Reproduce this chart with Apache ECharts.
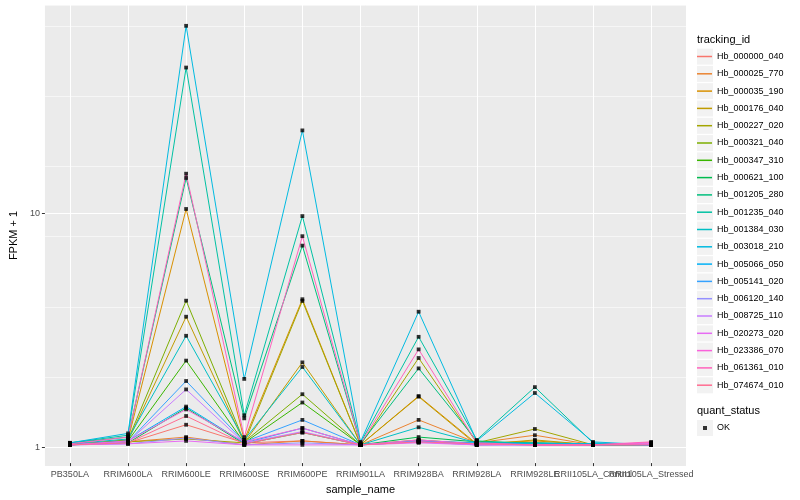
<!DOCTYPE html>
<html><head><meta charset="utf-8">
<script src="https://cdn.jsdelivr.net/npm/echarts@6/dist/echarts.min.js"></script>
<style>html,body{margin:0;padding:0;background:#fff}#c{width:800px;height:500px}</style>
</head><body><div id="c"></div><script>
const categories = ['PB350LA','RRIM600LA','RRIM600LE','RRIM600SE','RRIM600PE','RRIM901LA','RRIM928BA','RRIM928LA','RRIM928LE','RRII105LA_Control','RRII105LA_Stressed'];
const trackingIds = ['Hb_000000_040','Hb_000025_770','Hb_000035_190','Hb_000176_040','Hb_000227_020','Hb_000321_040','Hb_000347_310','Hb_000621_100','Hb_001205_280','Hb_001235_040','Hb_001384_030','Hb_003018_210','Hb_005066_050','Hb_005141_020','Hb_006120_140','Hb_008725_110','Hb_020273_020','Hb_023386_070','Hb_061361_010','Hb_074674_010'];
const palette = ['#F8766D','#EA8331','#D89000','#C09B00','#A3A500','#7CAE00','#39B600','#00BB4E','#00BF7D','#00C1A3','#00BFC4','#00BAE0','#00B0F6','#35A2FF','#9590FF','#C77CFF','#E76BF3','#FA62DB','#FF62BC','#FF6C91'];
const yTickValues = [1, 10];
const quantStatus = ['OK'];

const Hb_000000_040 = [1.01, 1.02, 1.22, 1.02, 1.04, 1.00, 1.03, 1.01, 1.00, 1.00, 1.02];
const Hb_000025_770 = [1.00, 1.03, 1.08, 1.00, 1.04, 1.00, 1.28, 1.02, 1.10, 1.00, 1.00];
const Hb_000035_190 = [1.00, 1.05, 10.3, 1.05, 4.22, 1.00, 1.62, 1.01, 1.04, 1.00, 1.00];
const Hb_000176_040 = [1.00, 1.04, 3.55, 1.02, 2.26, 1.00, 1.61, 1.00, 1.05, 1.00, 1.00];
const Hb_000227_020 = [1.00, 1.03, 1.06, 1.02, 4.15, 1.00, 2.36, 1.02, 1.17, 1.00, 1.00];
const Hb_000321_040 = [1.00, 1.05, 4.16, 1.03, 1.65, 1.00, 1.05, 1.01, 1.02, 1.00, 1.00];
const Hb_000347_310 = [1.00, 1.04, 2.30, 1.02, 1.52, 1.00, 1.04, 1.00, 1.01, 1.00, 1.00];
const Hb_000621_100 = [1.00, 1.02, 1.44, 1.01, 1.13, 1.00, 1.08, 1.03, 1.02, 1.00, 1.00];
const Hb_001205_280 = [1.02, 1.08, 14.0, 1.30, 7.17, 1.01, 2.13, 1.04, 1.01, 1.01, 1.00];
const Hb_001235_040 = [1.02, 1.10, 41.7, 1.34, 9.60, 1.02, 2.91, 1.05, 1.77, 1.02, 1.00];
const Hb_001384_030 = [1.01, 1.06, 2.94, 1.05, 2.16, 1.00, 1.19, 1.02, 1.02, 1.01, 1.00];
const Hb_003018_210 = [1.02, 1.12, 63.0, 1.92, 22.4, 1.03, 3.73, 1.04, 1.67, 1.03, 1.00];
const Hb_005066_050 = [1.00, 1.04, 1.46, 1.02, 1.18, 1.00, 1.04, 1.02, 1.01, 1.01, 1.00];
const Hb_005141_020 = [1.00, 1.03, 1.88, 1.03, 1.28, 1.00, 1.04, 1.01, 1.00, 1.00, 1.00];
const Hb_006120_140 = [1.00, 1.01, 1.07, 1.00, 1.02, 1.00, 1.03, 1.00, 1.00, 1.00, 1.01];
const Hb_008725_110 = [1.00, 1.03, 1.73, 1.02, 1.14, 1.00, 1.03, 1.00, 1.00, 1.00, 1.00];
const Hb_020273_020 = [1.00, 1.01, 1.04, 1.00, 1.00, 1.00, 1.02, 1.00, 1.00, 1.00, 1.01];
const Hb_023386_070 = [1.00, 1.04, 1.42, 1.03, 1.18, 1.00, 1.05, 1.01, 1.00, 1.00, 1.02];
const Hb_061361_010 = [1.01, 1.08, 14.6, 1.08, 7.87, 1.01, 2.57, 1.02, 1.00, 1.00, 1.03];
const Hb_074674_010 = [1.00, 1.02, 1.33, 1.01, 1.13, 1.00, 1.03, 1.01, 1.00, 1.00, 1.00];

const seriesValues = [Hb_000000_040, Hb_000025_770, Hb_000035_190, Hb_000176_040, Hb_000227_020,
  Hb_000321_040, Hb_000347_310, Hb_000621_100, Hb_001205_280, Hb_001235_040, Hb_001384_030,
  Hb_003018_210, Hb_005066_050, Hb_005141_020, Hb_006120_140, Hb_008725_110, Hb_020273_020,
  Hb_023386_070, Hb_061361_010, Hb_074674_010];

const FONT = 'Liberation Sans';
const yMin = 0.835, yMax = 77.4;
const panel = {left: 35, top: 5, width: 651, height: 461};
const band = panel.width / (categories.length - 1 + 1.2);
const inner = {left: panel.left + band * 0.6, width: band * (categories.length - 1)};

const chart = echarts.init(document.getElementById('c'), null, {renderer: 'canvas'});

const series = seriesValues.map((vals, i) => ({
  type: 'line', name: trackingIds[i], xAxisIndex: 1, yAxisIndex: 2,
  data: vals, showSymbol: false, symbol: 'none', silent: true,
  color: palette[i],
  lineStyle: {color: palette[i], width: 1},
  itemStyle: {color: palette[i]}, z: 2
}));
const pts = [];
seriesValues.forEach(vals => vals.forEach((v, j) => pts.push([categories[j], v])));
series.push({
  type: 'scatter', name: quantStatus[0], xAxisIndex: 1, yAxisIndex: 2,
  data: pts, symbol: 'rect', symbolSize: 3.8, itemStyle: {color: '#000'}, z: 5, silent: true
});

const itemStep = 17.3, legendTop = 48;
const keyRects = trackingIds.map((id, i) => ({
  type: 'rect', z: 1, silent: true,
  shape: {x: 697, y: legendTop + 0.6 + itemStep * i, width: 16, height: 16},
  style: {fill: '#F2F2F2'}
}));
keyRects.push({type: 'rect', z: 1, silent: true, shape: {x: 697, y: 420, width: 16, height: 16}, style: {fill: '#F2F2F2'}});

chart.setOption({
  animation: false,
  textStyle: {fontFamily: FONT},
  title: [
    {text: 'tracking_id', left: 697, top: 34, padding: 0, textStyle: {fontSize: 11, fontWeight: 'normal', color: '#000', fontFamily: FONT}},
    {text: 'quant_status', left: 697, top: 405, padding: 0, textStyle: {fontSize: 11, fontWeight: 'normal', color: '#000', fontFamily: FONT}}
  ],
  graphic: keyRects,
  legend: [
    {data: trackingIds, orient: 'vertical', left: 697, top: legendTop, padding: 0,
     icon: 'rect', itemWidth: 15, itemHeight: 1.5, itemGap: 0.3, selectedMode: false,
     itemStyle: {borderWidth: 0},
     textStyle: {fontSize: 9, color: '#000', lineHeight: 17, fontFamily: FONT}},
    {data: quantStatus, orient: 'vertical', left: 703, top: 419.5, padding: 0,
     icon: 'rect', itemWidth: 4, itemHeight: 4, selectedMode: false,
     itemStyle: {borderWidth: 0},
     textStyle: {fontSize: 9, color: '#000', lineHeight: 17, padding: [0, 0, 0, 5], fontFamily: FONT}}
  ],
  grid: [
    {left: panel.left, top: panel.top, width: panel.width, height: panel.height, show: true, backgroundColor: '#EBEBEB', borderWidth: 0, containLabel: false},
    {left: inner.left, top: panel.top, width: inner.width, height: panel.height, show: false, containLabel: false}
  ],
  xAxis: [
    {gridIndex: 0, type: 'value', min: 0, max: 1, show: false},
    {gridIndex: 1, type: 'category', data: categories, boundaryGap: false,
     axisLine: {show: false},
     axisTick: {show: true, length: 3, lineStyle: {color: '#333', width: 1}},
     axisLabel: {interval: 0, hideOverlap: false, color: '#4D4D4D', fontSize: 9, margin: 7, fontFamily: FONT},
     splitLine: {show: true, lineStyle: {color: '#FFFFFF', width: 1.07}},
     name: 'sample_name', nameLocation: 'middle', nameGap: 15,
     nameTextStyle: {color: '#000', fontSize: 11, fontFamily: FONT}}
  ],
  yAxis: [
    {gridIndex: 0, type: 'log', logBase: 10, min: yMin, max: yMax,
     axisLine: {show: false},
     axisTick: {show: true, length: 3, customValues: yTickValues, lineStyle: {color: '#333', width: 1}},
     axisLabel: {customValues: yTickValues, formatter: v => String(v), color: '#4D4D4D', fontSize: 9, margin: 5, fontFamily: FONT},
     splitLine: {show: true, lineStyle: {color: '#FFFFFF', width: 1.07}},
     name: 'FPKM + 1', nameLocation: 'middle', nameRotate: 90, nameGap: 20,
     nameTextStyle: {color: '#000', fontSize: 11, fontFamily: FONT}},
    {gridIndex: 0, type: 'value', position: 'right', min: Math.log10(yMin), max: Math.log10(yMax),
     axisLine: {show: false}, axisTick: {show: false}, axisLabel: {show: false},
     splitLine: {show: true, lineStyle: {color: '#FFFFFF', width: 0.55}}},
    {gridIndex: 1, type: 'log', logBase: 10, min: yMin, max: yMax, show: false}
  ],
  series: series
});
</script></body></html>
